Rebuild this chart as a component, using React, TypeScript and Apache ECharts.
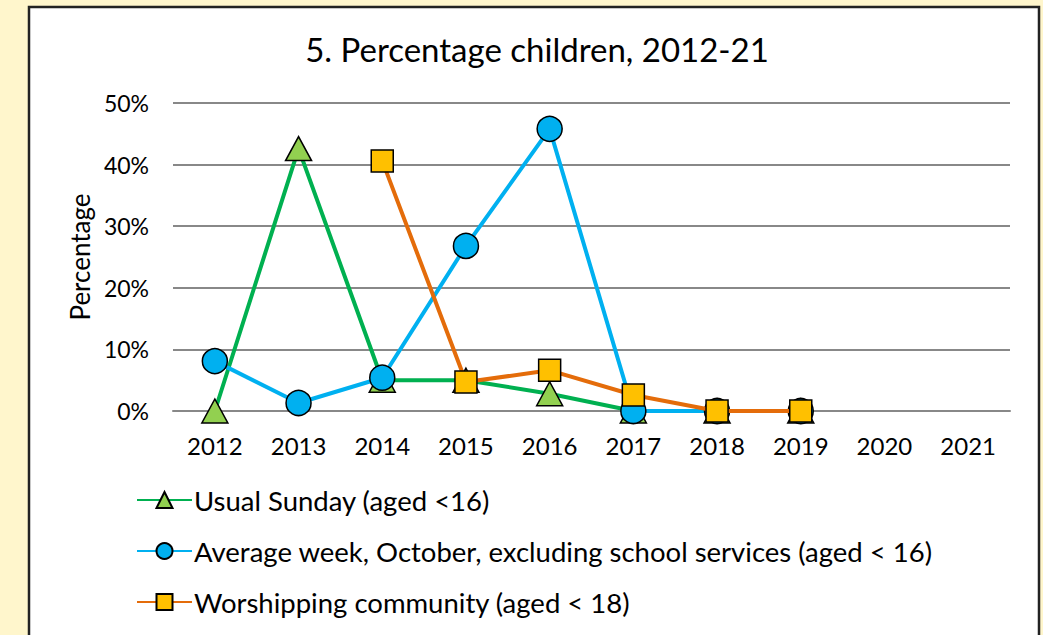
import React, { useEffect, useRef } from "react";
import * as echarts from "echarts";

const years = ["2012", "2013", "2014", "2015", "2016", "2017", "2018", "2019", "2020", "2021"];
const usualSunday = [0, 42.6, 5, 5, 2.8, 0, 0, 0, null, null];
const averageWeek = [8.1, 1.3, 5.4, 26.8, 45.8, 0, 0, 0, null, null];
const worshipping = [null, null, 40.6, 4.7, 6.6, 2.6, 0, 0, null, null];
const yTicks = [0, 10, 20, 30, 40, 50];

const FONT = "Lato";

export default function App() {
  const ref = useRef<HTMLDivElement>(null);
  useEffect(() => {
    document.body.style.margin = "0";
    const chart = echarts.init(ref.current!, null, { renderer: "svg" });
    chart.setOption({
      animation: false,
      backgroundColor: "#FFF6CC",
      textStyle: { fontFamily: FONT, color: "#000" },
      graphic: [
        {
          type: "rect",
          z: -10,
          shape: { x: 29, y: 7, width: 1010, height: 650 },
          style: { fill: "#fff", stroke: "#222", lineWidth: 2.5 },
        },
      ],
      title: {
        text: "5. Percentage children, 2012-21",
        left: 532,
        top: 27,
        textAlign: "center",
        textStyle: { fontFamily: FONT, fontSize: 33, fontWeight: "normal", color: "#000" },
      },
      legend: {
        orient: "vertical",
        left: 131,
        top: 481,
        itemWidth: 55,
        itemHeight: 20,
        itemGap: 23,
        textStyle: { fontFamily: FONT, fontSize: 27.5, color: "#000", padding: [0, 0, 0, -3] },
        data: [
          "Usual Sunday (aged <16)",
          "Average week, October, excluding school services (aged < 16)",
          "Worshipping community (aged < 18)",
        ],
      },
      grid: { left: 173, right: 33, top: 103, bottom: 224 },
      xAxis: {
        type: "category",
        data: years,
        boundaryGap: true,
        axisLine: { lineStyle: { color: "#888", width: 2 } },
        axisTick: { show: false },
        axisLabel: { fontFamily: FONT, fontSize: 24, color: "#000", margin: 22 },
      },
      yAxis: {
        type: "value",
        min: 0,
        max: 50,
        interval: 10,
        name: "Percentage",
        nameLocation: "middle",
        nameGap: 80,
        nameTextStyle: { fontFamily: FONT, fontSize: 26, color: "#000" },
        axisLine: { show: false },
        axisTick: { show: false },
        axisLabel: {
          fontFamily: FONT,
          fontSize: 23,
          color: "#000",
          margin: 24,
          formatter: (v: number) => (yTicks.includes(v) ? v + "%" : ""),
        },
        splitLine: { lineStyle: { color: "#888", width: 2 } },
      },
      series: [
        {
          name: "Usual Sunday (aged <16)",
          type: "line",
          data: usualSunday,
          symbol: "triangle",
          symbolSize: [26, 24],
          lineStyle: { color: "#00B050", width: 4 },
          itemStyle: { color: "#92D050", borderColor: "#000", borderWidth: 1.5 },
          z: 2,
        },
        {
          name: "Average week, October, excluding school services (aged < 16)",
          type: "line",
          data: averageWeek,
          symbol: "circle",
          symbolSize: 25,
          lineStyle: { color: "#00B0F0", width: 4 },
          itemStyle: { color: "#00B0F0", borderColor: "#000", borderWidth: 1.5 },
          z: 3,
        },
        {
          name: "Worshipping community (aged < 18)",
          type: "line",
          data: worshipping,
          symbol: "rect",
          symbolSize: 22,
          lineStyle: { color: "#E46C0A", width: 4 },
          itemStyle: { color: "#FFC000", borderColor: "#000", borderWidth: 1.5 },
          z: 4,
        },
      ],
    });
    return () => chart.dispose();
  }, []);
  return <div ref={ref} style={{ width: 1043, height: 635 }} />;
}
